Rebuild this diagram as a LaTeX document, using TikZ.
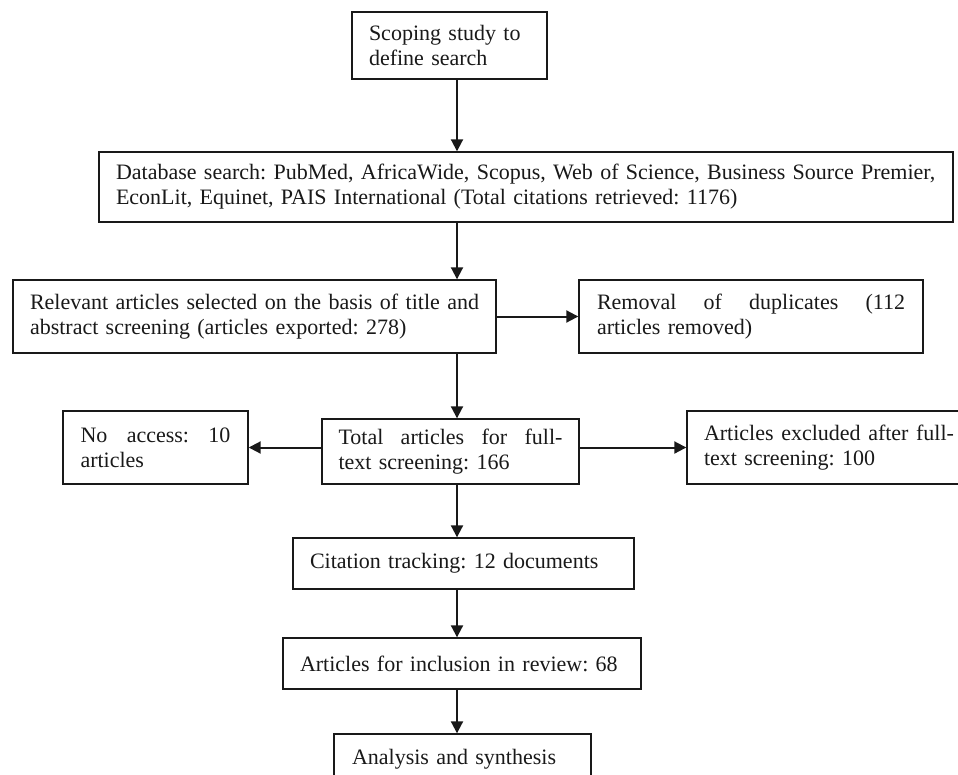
\documentclass[tikz,border=0pt]{standalone}
\usepackage{fontspec}
\setmainfont{Liberation Serif}
\usetikzlibrary{arrows.meta}
\newcommand{\jline}[2]{\makebox[#1][s]{\spaceskip=0.25em plus 10em\xspaceskip=0.25em plus 10em #2}}
\begin{document}
\frenchspacing
\begin{tikzpicture}[x=1pt,y=-1pt,
  box/.style={draw=black!90, line width=1.4pt, inner sep=0pt, align=left,
    font=\fontsize{22}{25}\selectfont\frenchspacing, text=black!90},
  arr/.style={draw=black!90, line width=2pt, -{Triangle[length=12pt,width=12pt]}}]
\clip (0,0) rectangle (958,774);
\fill[white] (0,0) rectangle (958,774);
\coordinate (axis) at (457,0);

\node[box, minimum width=195pt, minimum height=67pt, text width=161pt] (scope) at (449.5,45.5)
  {Scoping study to\\define search};
\node[box, minimum width=854pt, minimum height=70pt, text width=820pt] (db) at (526,187)
  {Database search: PubMed, AfricaWide, Scopus, Web of Science, Business Source Premier,\\EconLit, Equinet, PAIS International (Total citations retrieved: 1176)};
\node[box, minimum width=483pt, minimum height=73pt, text width=449pt] (rel) at (254.5,316.5)
  {\jline{449pt}{Relevant articles selected on the basis of title and}\\abstract screening (articles exported: 278)};
\node[box, minimum width=344pt, minimum height=73pt, text width=308pt] (rem) at (751,316.5)
  {\jline{308pt}{Removal of duplicates (112}\\articles removed)};
\node[box, minimum width=185pt, minimum height=73pt, text width=150pt] (noacc) at (155.5,447.5)
  {\jline{150pt}{No access: 10}\\articles};
\node[box, minimum width=257pt, minimum height=65pt, text width=224pt] (total) at (450.5,451.5)
  {\jline{224pt}{Total articles for full-}\\text screening: 166};
\node[box, minimum width=284pt, minimum height=73pt, text width=250pt] (excl) at (829,447.5)
  {\jline{250pt}{Articles excluded after full-}\\text screening: 100};
\node[box, minimum width=341pt, minimum height=51pt, text width=307pt] (cit) at (463.5,563.5)
  {Citation tracking: 12 documents};
\node[box, minimum width=358pt, minimum height=51pt, text width=324pt] (inc) at (462,663.5)
  {Articles for inclusion in review: 68};
\node[box, minimum width=257pt, minimum height=51pt, text width=221pt] (ana) at (462.5,759.5)
  {Analysis and synthesis};

\draw[arr] (scope.south -| axis) -- (db.north -| axis);
\draw[arr] (db.south -| axis) -- (rel.north -| axis);
\draw[arr] (rel.east) -- (rem.west);
\draw[arr] (rel.south -| axis) -- (total.north -| axis);
\draw[arr] (total.west |- noacc.east) -- (noacc.east);
\draw[arr] (total.east |- excl.west) -- (excl.west);
\draw[arr] (total.south -| axis) -- (cit.north -| axis);
\draw[arr] (cit.south -| axis) -- (inc.north -| axis);
\draw[arr] (inc.south -| axis) -- (ana.north -| axis);
\end{tikzpicture}
\end{document}
